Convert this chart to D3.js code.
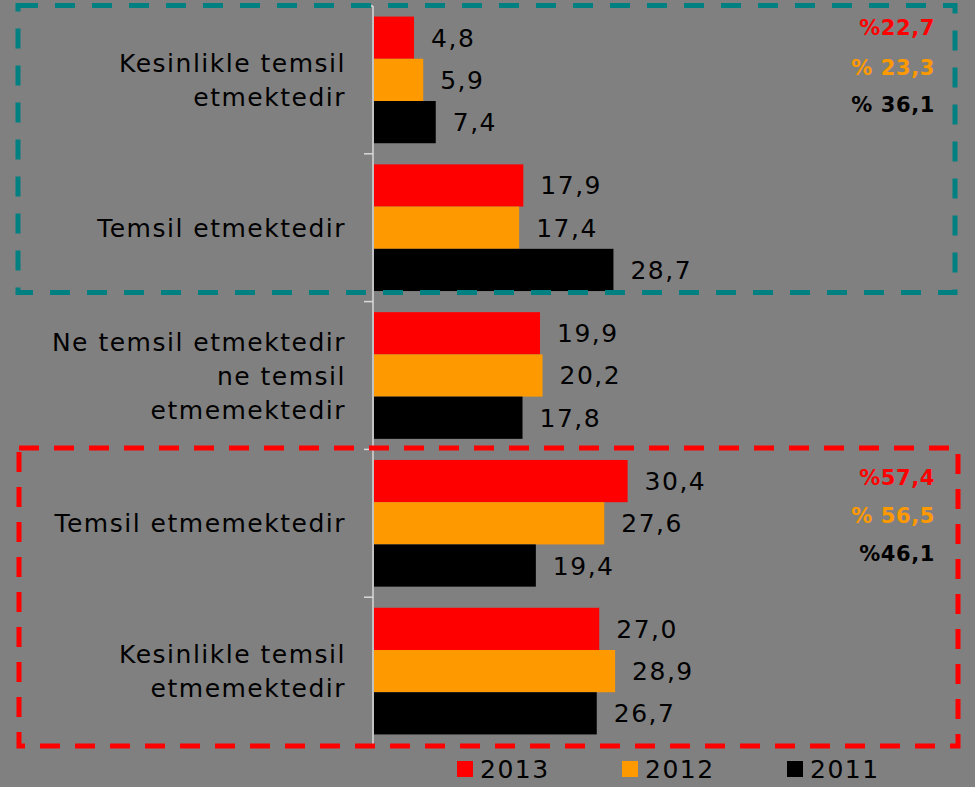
<!DOCTYPE html>
<html><head><meta charset="utf-8">
<script src="https://cdn.jsdelivr.net/npm/d3@7"></script>
<style>
html,body{margin:0;padding:0;background:#808080;}
svg{display:block;font-family:Verdana,"DejaVu Sans",sans-serif;}
</style></head>
<body>
<svg id="chart" width="975" height="787"></svg>
<script>
const categories = [
  ["Kesinlikle temsil","etmektedir"],
  ["Temsil etmektedir"],
  ["Ne temsil etmektedir","ne temsil","etmemektedir"],
  ["Temsil etmemektedir"],
  ["Kesinlikle temsil","etmemektedir"]
];
const seriesNames = ["2013","2012","2011"];
const seriesColors = ["#ff0000","#ff9900","#000000"];
const values2013 = [4.8, 17.9, 19.9, 30.4, 27.0];
const values2012 = [5.9, 17.4, 20.2, 27.6, 28.9];
const values2011 = [7.4, 28.7, 17.8, 19.4, 26.7];
const topTotals = ["%22,7","% 23,3","% 36,1"];
const bottomTotals = ["%57,4","% 56,5","%46,1"];

const seriesValues = [values2013, values2012, values2011];
const svg = d3.select("#chart");
const W = 975, H = 787;
const FS = 25, LS = 1.5;
svg.append("rect").attr("width",W).attr("height",H).attr("fill","#808080");

const catKeys = categories.map((c,i)=>i);
const x = d3.scaleLinear().domain([0,70]).range([374, 958]);
const y0 = d3.scaleBand().domain(catKeys).range([6,745]).padding(0);
const y1 = d3.scaleBand().domain(seriesNames).range([0,y0.bandwidth()]).paddingInner(0).paddingOuter(0.25);
const fmt = v => d3.format(".1f")(v).replace(".",",");

// bars
const groups = svg.append("g").selectAll("g").data(catKeys).join("g")
  .attr("transform", d=>`translate(0,${y0(d)})`);
seriesNames.forEach((s,si)=>{
  groups.append("rect")
    .attr("x", x(0))
    .attr("y", y1(s))
    .attr("width", d=>x(seriesValues[si][d])-x(0))
    .attr("height", y1.bandwidth())
    .attr("fill", seriesColors[si]);
  groups.append("text")
    .attr("x", d=>x(seriesValues[si][d])+17)
    .attr("y", y1(s)+y1.bandwidth()/2)
    .attr("dy","0.36em")
    .attr("font-size",FS).attr("letter-spacing",LS)
    .attr("fill","#000")
    .text(d=>fmt(seriesValues[si][d]));
});

// axis
const axis = d3.axisLeft(y0).tickSize(0).tickFormat("");
const ag = svg.append("g").attr("transform",`translate(${x(0)-1},0)`).call(axis);
ag.select(".domain").attr("stroke","#d9d9d9").attr("stroke-width",1.5).attr("d",`M0,6V745`);
const bounds = d3.range(categories.length+1).map(i=>6+i*y0.step());
svg.append("g").selectAll("line").data(bounds).join("line")
  .attr("x1",x(0)-10).attr("x2",x(0)-1).attr("y1",d=>d).attr("y2",d=>d)
  .attr("stroke","#d9d9d9").attr("stroke-width",1.5);

// category labels
const lineH = 34;
svg.append("g").selectAll("text").data(catKeys).join("text")
  .attr("text-anchor","end")
  .attr("font-size",FS).attr("letter-spacing",LS)
  .attr("fill","#000")
  .each(function(d){
    const lines = categories[d];
    const cy = y0(d)+y0.bandwidth()/2;
    const t = d3.select(this);
    lines.forEach((ln,li)=>{
      t.append("tspan").attr("x",346)
        .attr("y", cy + (li-(lines.length-1)/2)*lineH)
        .attr("dy","0.36em").text(ln);
    });
  });

// dashed boxes
svg.append("rect").attr("x",18).attr("y",5.5).attr("width",937).attr("height",287)
  .attr("fill","none").attr("stroke","#008080").attr("stroke-width",5).attr("stroke-dasharray","20 17");
svg.append("rect").attr("x",19).attr("y",448).attr("width",939).attr("height",298)
  .attr("fill","none").attr("stroke","#ff0000").attr("stroke-width",5).attr("stroke-dasharray","20 15");

// totals
const totalY1 = [27,67,104], totalY2 = [477,515,553];
[[topTotals,totalY1],[bottomTotals,totalY2]].forEach(([arr,ys])=>{
  svg.append("g").selectAll("text").data(arr).join("text")
    .attr("x",935).attr("y",(d,i)=>ys[i]).attr("dy","0.36em")
    .attr("text-anchor","end").attr("font-weight","bold").attr("font-size",21)
    .attr("letter-spacing",0.6)
    .attr("fill",(d,i)=>seriesColors[i]).text(d=>d);
});

// legend
const legX = [457,622,787];
const lg = svg.append("g").selectAll("g").data(seriesNames).join("g")
  .attr("transform",(d,i)=>`translate(${legX[i]},761)`);
lg.append("rect").attr("width",16).attr("height",16).attr("fill",(d,i)=>seriesColors[i]);
lg.append("text").attr("x",23).attr("y",8).attr("dy","0.36em")
  .attr("font-size",FS).attr("letter-spacing",LS).attr("fill","#000").text(d=>d);
</script>
</body></html>
